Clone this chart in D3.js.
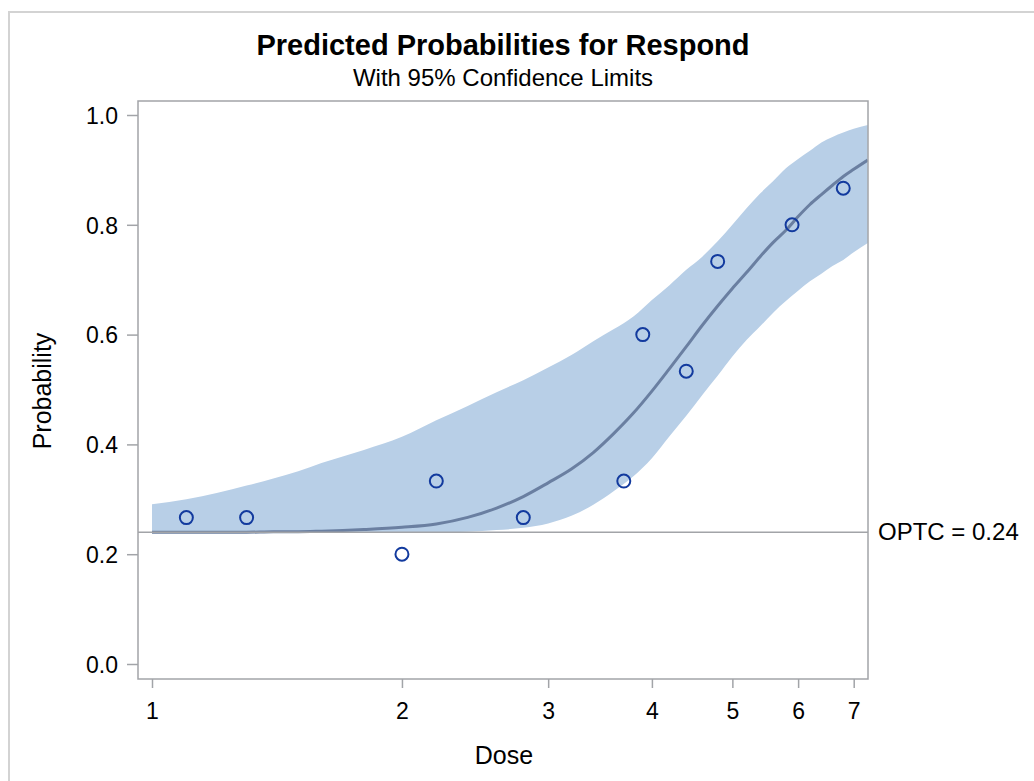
<!DOCTYPE html>
<html><head><meta charset="utf-8">
<script src="https://cdn.jsdelivr.net/npm/d3@7"></script>
<style>body{margin:0;background:#fff}svg{display:block;font-family:"Liberation Sans",Arial,sans-serif}
.tk text{font-size:23px !important;font-family:"Liberation Sans",Arial,sans-serif !important;fill:#000}</style>
</head><body><svg id="c" width="1034" height="781"></svg>
<script>
// Observed data
const obsDose = [1.1, 1.3, 2.0, 2.2, 2.8, 3.7, 3.9, 4.4, 4.8, 5.9, 6.8];
const obsProb = [0.2667, 0.2667, 0.2, 0.3333, 0.2667, 0.3333, 0.6, 0.5333, 0.7333, 0.8, 0.8667];
// Predicted curve and 95% limits
const gridDose = [1.0,1.1,1.2,1.3,1.4,1.5,1.6,1.8,2.0,2.2,2.4,2.6,2.8,3.0,3.2,3.4,3.6,3.8,4.0,4.2,4.4,4.6,4.8,5.0,5.2,5.4,5.6,5.8,6.0,6.2,6.4,6.6,6.8,7.0,7.28];
const predicted = [0.240,0.240,0.240,0.240,0.241,0.241,0.242,0.245,0.249,0.255,0.267,0.284,0.305,0.330,0.355,0.385,0.420,0.457,0.497,0.538,0.578,0.617,0.652,0.684,0.713,0.742,0.768,0.790,0.815,0.837,0.855,0.872,0.888,0.901,0.918];
const upper = [0.291,0.300,0.312,0.325,0.338,0.351,0.366,0.390,0.414,0.444,0.470,0.495,0.517,0.540,0.563,0.588,0.610,0.633,0.663,0.690,0.718,0.742,0.770,0.800,0.830,0.857,0.880,0.903,0.920,0.935,0.950,0.960,0.968,0.975,0.982];
const lower = [0.240,0.240,0.240,0.240,0.240,0.240,0.240,0.240,0.240,0.240,0.241,0.244,0.248,0.256,0.270,0.290,0.315,0.342,0.375,0.415,0.452,0.490,0.525,0.560,0.590,0.615,0.640,0.661,0.680,0.697,0.711,0.725,0.736,0.750,0.767];
const optc = 0.24;
const xTicks = [1,2,3,4,5,6,7];
const yTicks = [0.0,0.2,0.4,0.6,0.8,1.0];

const svg = d3.select("#c");
// page border
svg.append("path").attr("d","M9,781V12H1034").attr("fill","none").attr("stroke","#d3d3d3").attr("stroke-width",2);

const L=138, R=868, T=101, B=679;
const x = d3.scaleLog().domain([1,7]).range([152, 853.7]);
const y = d3.scaleLinear().domain([0,1]).range([664,115]);

const g = svg.append("g");
g.append("clipPath").attr("id","clip").append("rect").attr("x",L).attr("y",T).attr("width",R-L).attr("height",B-T);
const plot = g.append("g").attr("clip-path","url(#clip)");

const band = gridDose.map((d,i)=>({d, lo:lower[i], hi:upper[i], p:predicted[i]}));
plot.append("path").datum(band)
  .attr("d", d3.area().x(d=>x(d.d)).y0(d=>y(d.lo)).y1(d=>y(d.hi)).curve(d3.curveMonotoneX))
  .attr("fill","#b8cfe7");
// reference line
g.append("line").attr("x1",L).attr("x2",R).attr("y1",y(optc)).attr("y2",y(optc)).attr("stroke","#a2a4a8").attr("stroke-width",1.5);
plot.append("path").datum(band)
  .attr("d", d3.line().x(d=>x(d.d)).y(d=>y(d.p)).curve(d3.curveMonotoneX))
  .attr("fill","none").attr("stroke","#6a7fa1").attr("stroke-width",3);
plot.selectAll("circle.o").data(obsDose.map((d,i)=>[d,obsProb[i]])).join("circle")
  .attr("cx",d=>x(d[0])).attr("cy",d=>y(d[1])).attr("r",6.5)
  .attr("fill","none").attr("stroke","#123a9e").attr("stroke-width",2);

// frame
g.append("rect").attr("x",L).attr("y",T).attr("width",R-L).attr("height",B-T)
  .attr("fill","none").attr("stroke","#a2a4a8").attr("stroke-width",1.5);

// axes
const xa = svg.append("g").attr("class","tk").attr("transform",`translate(0,${B})`)
  .call(d3.axisBottom(x).tickValues(xTicks).tickFormat(d3.format("d")).tickSize(9).tickPadding(15));
const ya = svg.append("g").attr("class","tk").attr("transform",`translate(${L},0)`)
  .call(d3.axisLeft(y).tickValues(yTicks).tickFormat(d3.format(".1f")).tickSize(11).tickPadding(9));
[xa,ya].forEach(a=>{
  a.attr("font-size",23).attr("font-family","Liberation Sans, Arial, sans-serif");
  a.select(".domain").remove();
  a.selectAll(".tick line").attr("stroke","#a2a4a8").attr("stroke-width",1.5);
});
ya.selectAll(".tick text").attr("dy","0.36em");

// labels
svg.append("text").attr("x",503).attr("y",55).attr("text-anchor","middle")
  .style("font-size","29px").style("font-weight","bold").text("Predicted Probabilities for Respond");
svg.append("text").attr("x",503).attr("y",86).attr("text-anchor","middle")
  .style("font-size","24px").text("With 95% Confidence Limits");
svg.append("text").attr("x",504).attr("y",764).attr("text-anchor","middle")
  .style("font-size","25px").text("Dose");
svg.append("text").attr("transform","translate(51,391) rotate(-90)").attr("text-anchor","middle")
  .style("font-size","25px").text("Probability");
svg.append("text").attr("x",878).attr("y",y(optc)+8).style("font-size","24px").text("OPTC = " + optc);
</script></body></html>
